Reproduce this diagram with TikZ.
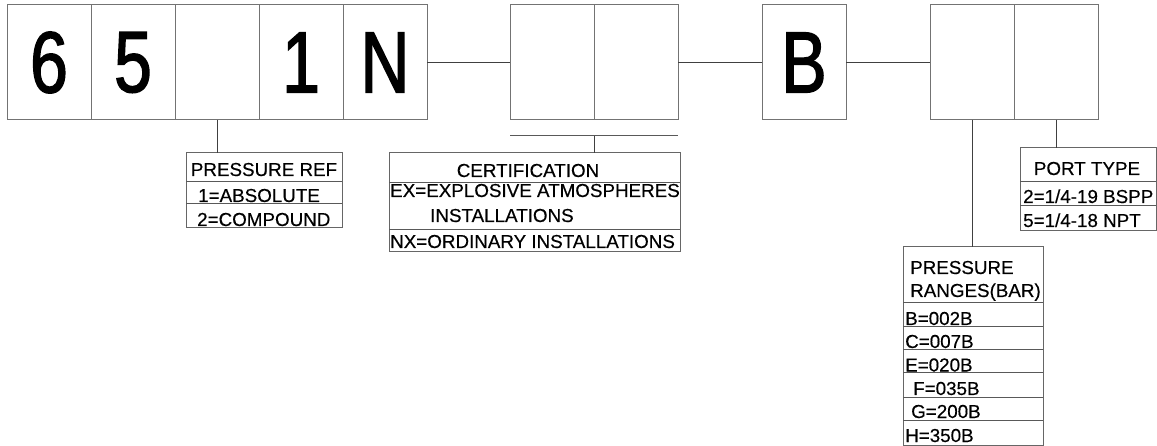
\documentclass[tikz,border=0pt]{standalone}
\usepackage{fontspec}
\setmainfont{Liberation Sans}
\newfontfamily\bigf[FakeStretch=0.78,FakeBold=1.6]{Liberation Sans}
\newfontfamily\smallf[FakeBold=0.4]{Liberation Sans}
\begin{document}
\begin{tikzpicture}[x=1pt,y=-1pt,
  cell/.style={draw=black!55, line width=1pt, minimum width=84pt, minimum height=115pt,
    inner sep=0pt, outer sep=0pt, font=\bigf\fontsize{87}{87}\selectfont},
  tbl/.style={draw=black!60, line width=1pt, inner sep=0pt, outer sep=0pt},
  conn/.style={draw=black!75, line width=1pt},
  divl/.style={draw=black!65, line width=1pt},
  txt/.style={inner sep=0pt, font=\smallf\fontsize{18.8}{18.8}\selectfont}]
\useasboundingbox (0,0) rectangle (1157,446);
% top cells
\node[cell] (c1) at (49,62.5) {6};
\node[cell] (c2) at (133,62.5) {5};
\node[cell] (c3) at (217,62.5) {};
\node[cell] (c4) at (301,62.5) {1};
\node[cell] (c5) at (385,62.5) {N};
\node[cell] (e1) at (552,62.5) {};
\node[cell] (e2) at (636,62.5) {};
\node[cell] (bb) at (804,62.5) {B};
\node[cell] (p1) at (972,62.5) {};
\node[cell] (p2) at (1056,62.5) {};
% connectors between cells
\draw[conn] (c5.east) -- (e1.west);
\draw[conn] (e2.east) -- (bb.west);
\draw[conn] (bb.east) -- (p1.west);
% tables
\node[tbl, minimum width=156pt, minimum height=75pt] (pref) at (264,190.5) {};
\node[tbl, minimum width=291pt, minimum height=99pt] (cert) at (534.5,202.5) {};
\node[tbl, minimum width=140pt, minimum height=198pt] (rng) at (973,346) {};
\node[tbl, minimum width=136pt, minimum height=83pt] (port) at (1088,189.5) {};
% connectors to tables
\draw[conn] (c3.south) -- (c3.south |- pref.north);
\coordinate (barL) at ([yshift=-16pt]e1.south west);
\coordinate (barR) at ([yshift=-16pt]e2.south east);
\coordinate (barM) at ([yshift=-16pt]e1.south east);
\draw[divl] (barL) -- (barR);
\draw[conn] (barM) -- (barM |- cert.north);
\draw[conn] (p1.south) -- (p1.south |- rng.north);
\draw[conn] (p2.south) -- (p2.south |- port.north);
% table dividers
\draw[divl] (pref.west |- 0,182) -- (pref.east |- 0,182);
\draw[divl] (pref.west |- 0,204) -- (pref.east |- 0,204);
\draw[divl] (cert.west |- 0,183) -- (cert.east |- 0,183);
\draw[divl] (cert.west |- 0,230) -- (cert.east |- 0,230);
\draw[divl] (port.west |- 0,182) -- (port.east |- 0,182);
\draw[divl] (port.west |- 0,206) -- (port.east |- 0,206);
\foreach \yy in {303,327,350,373,397,420}
  \draw[divl] (rng.west |- 0,\yy) -- (rng.east |- 0,\yy);
% texts
\node[txt, anchor=base] (prh) at (264,176) {PRESSURE REF};
\node[txt, anchor=base west] (pr1) at (198,202) {1=ABSOLUTE};
\node[txt, anchor=base west] (pr2) at (197,226) {2=COMPOUND};
\node[txt, anchor=base] (ceh) at (528,177) {CERTIFICATION};
\node[txt, anchor=base west] (ce1) at (390,197) {EX=EXPLOSIVE ATMOSPHERES};
\node[txt, anchor=base west] (ce2) at (430,222) {INSTALLATIONS};
\node[txt, anchor=base west] (ce3) at (390,248) {NX=ORDINARY INSTALLATIONS};
\node[txt, anchor=base] (pth) at (1087,175) {PORT TYPE};
\node[txt, anchor=base west] (pt1) at (1023,203) {2=1/4-19 BSPP};
\node[txt, anchor=base west] (pt2) at (1023,227) {5=1/4-18 NPT};
\node[txt, anchor=base west] (rh1) at (910,274) {PRESSURE};
\node[txt, anchor=base west] (rh2) at (910,297) {RANGES(BAR)};
\node[txt, anchor=base west] (r1) at (905,325) {B=002B};
\node[txt, anchor=base west] (r2) at (905,348) {C=007B};
\node[txt, anchor=base west] (r3) at (905,371.5) {E=020B};
\node[txt, anchor=base west] (r4) at (913,395) {F=035B};
\node[txt, anchor=base west] (r5) at (911,418) {G=200B};
\node[txt, anchor=base west] (r6) at (905,442) {H=350B};
\end{tikzpicture}
\end{document}
